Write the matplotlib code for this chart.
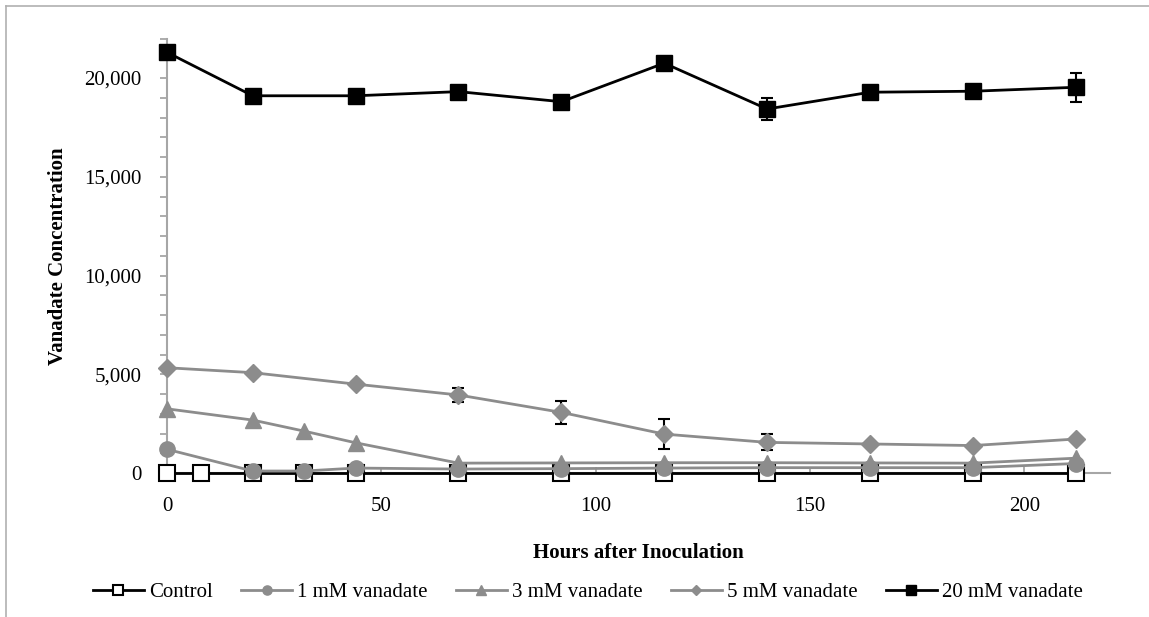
import matplotlib
matplotlib.use("Agg")
import matplotlib.pyplot as plt
from matplotlib.ticker import MultipleLocator, FuncFormatter
from matplotlib.lines import Line2D

plt.rcParams['font.family'] = ['Liberation Serif', 'DejaVu Serif']

# ---- data ----
hours_control = [0, 8, 20, 32, 44, 68, 92, 116, 140, 164, 188, 212]
control = [0, 0, 0, 0, 0, 0, 0, 0, 0, 0, 0, 0]

hours_1mm = [0, 20, 32, 44, 68, 92, 116, 140, 164, 188, 212]
v1mm = [1200, 100, 100, 250, 200, 220, 250, 270, 270, 270, 480]

hours_3mm = [0, 20, 32, 44, 68, 92, 116, 140, 164, 188, 212]
v3mm = [3250, 2680, 2120, 1530, 500, 510, 520, 520, 510, 500, 750]

hours_5mm = [0, 20, 44, 68, 92, 116, 140, 164, 188, 212]
v5mm = [5330, 5080, 4500, 3950, 3070, 1970, 1550, 1470, 1390, 1720]
err5mm = [0, 0, 0, 350, 600, 780, 400, 0, 0, 0]

hours_20mm = [0, 20, 44, 68, 92, 116, 140, 164, 188, 212]
v20mm = [21300, 19100, 19100, 19310, 18800, 20750, 18430, 19280, 19330, 19530]
err20mm = [0, 0, 0, 0, 0, 0, 540, 0, 0, 720]

labels = ["Control", "1 mM vanadate", "3 mM vanadate", "5 mM vanadate", "20 mM vanadate"]
xticks = [0, 50, 100, 150, 200]

GRAY = "#8c8c8c"
SPINE = "#a6a6a6"
FS = 15

W, H = 1149, 617
fig = plt.figure(figsize=(W / 100, H / 100), dpi=100)
AX_L, AX_R, AX_T, AX_B = 167, 1110, 38.5, 473
ax = fig.add_axes([AX_L / W, 1 - AX_B / H, (AX_R - AX_L) / W, (AX_B - AX_T) / H])

# outer border (top + left)
fig.add_artist(Line2D([6 / W, 6 / W], [0, 1 - 6 / H], color="#b0b0b0", lw=1.2, transform=fig.transFigure))
fig.add_artist(Line2D([6 / W, 1], [1 - 6 / H, 1 - 6 / H], color="#b0b0b0", lw=1.2, transform=fig.transFigure))

l0, = ax.plot(hours_control, control, color="black", lw=2.0, marker="s", ms=11,
              mfc="white", mec="black", mew=1.5, label=labels[0], zorder=3, clip_on=False)
l1, = ax.plot(hours_1mm, v1mm, color=GRAY, lw=2.0, marker="o", ms=11,
              mfc=GRAY, mec=GRAY, label=labels[1], zorder=4, clip_on=False)
l2, = ax.plot(hours_3mm, v3mm, color=GRAY, lw=2.0, marker="^", ms=11,
              mfc=GRAY, mec=GRAY, label=labels[2], zorder=4, clip_on=False)
eb5 = ax.errorbar(hours_5mm, v5mm, yerr=err5mm, color=GRAY, lw=2.0, marker="D", ms=9,
                  mfc=GRAY, mec=GRAY, ecolor="black", elinewidth=1.5, capsize=4, capthick=1.5,
                  zorder=5)
eb20 = ax.errorbar(hours_20mm, v20mm, yerr=err20mm, color="black", lw=2.0, marker="s", ms=12,
                   mfc="black", mec="black", ecolor="black", elinewidth=1.5, capsize=4, capthick=1.5,
                   zorder=6)
for eb in (eb5, eb20):
    eb[0].set_clip_on(False)
    for c in eb[1]:
        c.set_clip_on(False)
    for c in eb[2]:
        c.set_clip_on(False)

ax.set_xlim(0, 220)
ax.set_ylim(0, 22000)
ax.set_xticks(xticks)
ax.yaxis.set_major_locator(MultipleLocator(5000))
ax.yaxis.set_minor_locator(MultipleLocator(1000))
ax.yaxis.set_major_formatter(FuncFormatter(lambda v, p: f"{int(v):,}"))

for s in ["top", "right"]:
    ax.spines[s].set_visible(False)
for s in ["left", "bottom"]:
    ax.spines[s].set_color(SPINE)
    ax.spines[s].set_linewidth(1.5)
    ax.spines[s].set_zorder(1)

ax.tick_params(axis="y", which="both", direction="out", length=5, width=1.3,
               color=SPINE, labelsize=FS, pad=13.5)
ax.tick_params(axis="x", which="both", direction="in", length=4, width=1.3,
               color=SPINE, labelsize=FS, pad=17)

ax.set_xlabel("Hours after Inoculation", fontsize=FS, fontweight="bold")
ax.set_ylabel("Vanadate Concentration", fontsize=FS, fontweight="bold")
ax.xaxis.set_label_coords(0.5, -(543 - AX_B) / (AX_B - AX_T))
ax.yaxis.set_label_coords(-(AX_L - 68) / (AX_R - AX_L), 0.5)

h5 = Line2D([], [], color=GRAY, lw=2.0, marker="D", ms=9, mfc=GRAY, mec=GRAY)
h20 = Line2D([], [], color="black", lw=2.0, marker="s", ms=12, mfc="black", mec="black")
handles = [l0, l1, l2, h5, h20]
fig.legend(handles, labels, loc="center", ncol=5, bbox_to_anchor=(588 / W, 1 - 592 / H),
           frameon=False, fontsize=FS, handlelength=2.45, handletextpad=0.25,
           columnspacing=1.35, markerscale=0.6)

fig.savefig("out.png", dpi=100)
